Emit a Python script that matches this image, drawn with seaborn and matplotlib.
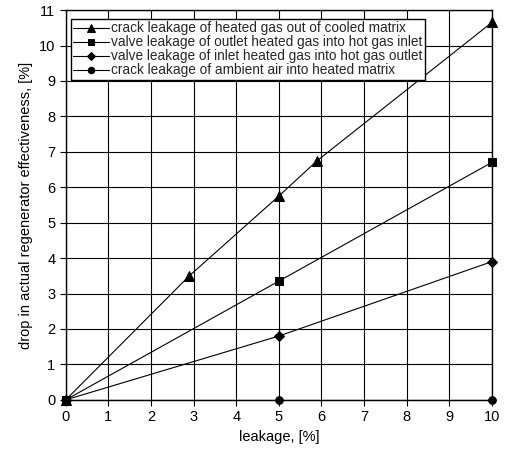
import matplotlib
matplotlib.use("Agg")
import matplotlib.pyplot as plt
import seaborn as sns
import pandas as pd

sns.set_style("white")
plt.rcParams['font.family'] = ['Liberation Sans', 'DejaVu Sans']

labels = [
    "crack leakage of heated gas out of cooled matrix",
    "valve leakage of outlet heated gas into hot gas inlet",
    "valve leakage of inlet heated gas into hot gas outlet",
    "crack leakage of ambient air into heated matrix",
]
x_tri = [0, 2.9, 5, 5.9, 10]
y_tri = [0, 3.5, 5.75, 6.75, 10.65]
x_sq = [0, 5, 10]
y_sq = [0, 3.35, 6.7]
x_dia = [0, 5, 10]
y_dia = [0, 1.8, 3.9]
x_cir = [0, 5, 10]
y_cir = [0, 0, 0]
markers = ["^", "s", "D", "o"]
msizes = [6.5, 5.5, 5, 5.5]

fig = plt.figure(figsize=(5.06, 4.58), dpi=100)
ax = fig.add_axes([0.130, 0.127, 0.842, 0.851])

series = [(x_tri, y_tri), (x_sq, y_sq), (x_dia, y_dia), (x_cir, y_cir)]
for (xs, ys), lab, m, ms in zip(series, labels, markers, msizes):
    df = pd.DataFrame({"x": xs, "y": ys})
    sns.lineplot(data=df, x="x", y="y", ax=ax, color="black", lw=0.8,
                 marker=m, markersize=ms, markeredgecolor="black",
                 markerfacecolor="black", label=lab, clip_on=False, zorder=3)

ax.set_xlim(0, 10)
ax.set_ylim(0, 11)
ax.set_xticks(range(0, 11))
ax.set_yticks(range(0, 12))
ax.grid(True, color="black", lw=0.8)
ax.set_axisbelow(True)
for s in ax.spines.values():
    s.set_color("black")
    s.set_linewidth(1.0)
ax.tick_params(direction="out", length=4, width=0.8, colors="black",
               labelsize=10.5, left=True, bottom=True)
ax.set_xlabel("leakage, [%]", fontsize=10.5, color="black")
ax.set_ylabel("drop in actual regenerator effectiveness, [%]", fontsize=10.5, color="black")

leg = ax.legend(loc="upper left", bbox_to_anchor=(0.005, 0.985), fontsize=9.8,
                frameon=True, fancybox=False, handlelength=2.6, handletextpad=0.15,
                borderpad=0.2, labelspacing=0.0, borderaxespad=0.2, markerscale=0.85)
leg.get_frame().set_edgecolor("black")
leg.get_frame().set_linewidth(1.0)
leg.get_frame().set_alpha(1)

fig.savefig("out.png", dpi=100)
